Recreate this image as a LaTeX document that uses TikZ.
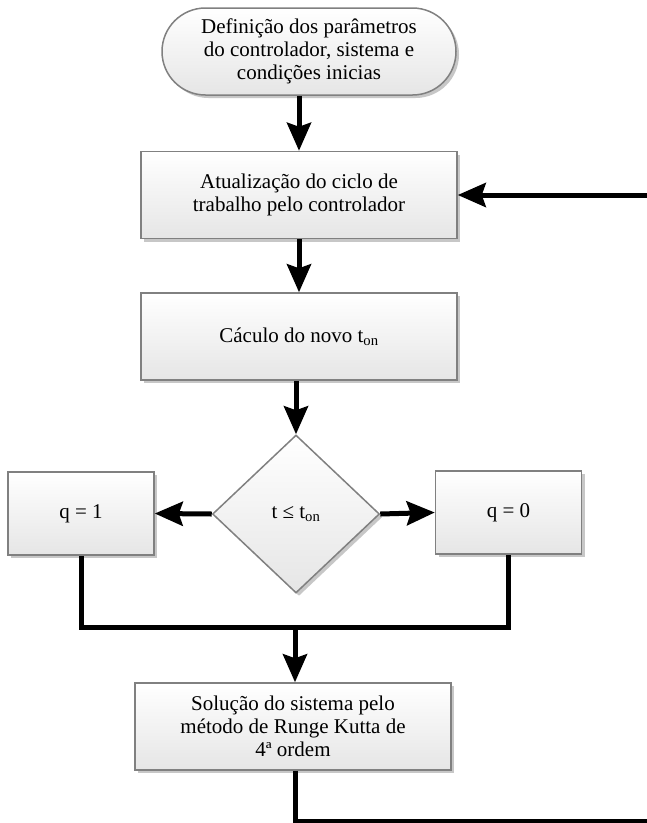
\documentclass[tikz,border=0pt]{standalone}
\usepackage{fontspec}
\setmainfont{Liberation Serif}
\usetikzlibrary{positioning}
\usetikzlibrary{shapes.geometric, shapes.misc}
\usetikzlibrary{shadows, arrows.meta}

\begin{document}
\begin{tikzpicture}[x=1pt,y=-1pt,
  font=\fontsize{21}{23}\selectfont,
  blk/.style={rectangle,draw=black!50,line width=1.5pt,top color=white,bottom color=black!10,
    drop shadow={shadow xshift=3pt,shadow yshift=-3pt,fill=black!22,opacity=1},
    align=center,inner sep=2pt},
  procbox/.style={blk,minimum width=316pt,minimum height=87pt},
  qbox/.style={blk,minimum width=146pt,minimum height=83pt},
  termbox/.style={blk,rounded rectangle,minimum width=298pt,minimum height=87pt},
  decbox/.style={blk,diamond,minimum width=167pt,minimum height=158pt,inner sep=0pt},
  flow/.style={line width=5pt},
  arr/.style={flow,-{Stealth[length=28pt,width=24pt,inset=4pt]}}]
\useasboundingbox[fill=white] (0,0) rectangle (647,823);

\node[termbox] (ini) at (309,51.5) {Definição dos parâmetros\\do controlador, sistema e\\condições inicias};
\node[procbox] (ciclo) at (299,195) {Atualização do ciclo de\\trabalho pelo controlador};
\node[procbox] (ton) at (299,336.5) {Cáculo do novo t\textsubscript{on}};
\node[decbox] (teste) at (296,514) {t ≤ t\textsubscript{on}};
\node[qbox] (qum) at (81,513.5) {q = 1};
\node[qbox] (qzero) at (508.5,512.5) {q = 0};
\node[procbox] (rk) at (293,726.5) {Solução do sistema pelo\\método de Runge Kutta de\\4ª ordem};

\coordinate (junta) at (295,627);
\coordinate (volta) at (655,821);

\draw[arr] (ini.south -| ciclo.north) -- (ciclo.north);
\draw[arr] (ciclo.south) -- (ton.north);
\draw[arr] (teste.north |- ton.south) -- (teste.north);
\draw[arr] (teste.west) -- (qum.east);
\draw[arr] (teste.east) -- (qzero.west);
\draw[flow] (qum.south) |- (junta) -| (qzero.south);
\draw[arr] (junta) -- (junta |- rk.north);
\draw[arr] (rk.south -| junta) |- (volta) |- (ciclo.east);

\end{tikzpicture}
\end{document}
